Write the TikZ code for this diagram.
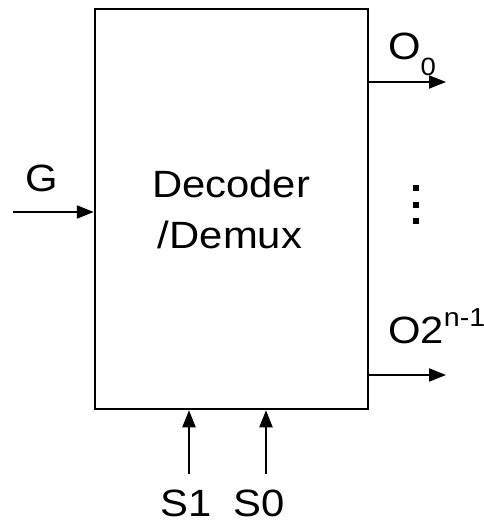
\documentclass[tikz,border=0pt]{standalone}
\usepackage{fontspec}
\setmainfont{Liberation Sans}
\usetikzlibrary{arrows.meta}
\begin{document}
\begin{tikzpicture}[x=1pt,y=-1pt,
  lbl/.style={font=\fontsize{38}{46}\selectfont, inner sep=0pt, xscale=1.1},
  sig/.style={line width=2pt, -{Triangle[length=17pt,width=13pt]}},
  dotsq/.style={fill=black, minimum size=6pt, inner sep=0pt}]
\useasboundingbox (0,0) rectangle (484,523);
\node[draw, line width=2.5pt, minimum width=273pt, minimum height=400pt, inner sep=0pt] (box) at (231.5,209) {};
\node[lbl, anchor=base] (dec1) at (231,197) {Decoder};
\node[lbl, anchor=base] (dec2) at (230,248) {/Demux};
% outputs
\node[lbl, anchor=base west] (o0) at (388,59) {O\raisebox{-16pt}{\fontsize{25}{25}\selectfont 0}};
\node[lbl, anchor=base west] (on) at (388,343) {O2\raisebox{17pt}{\fontsize{26}{26}\selectfont n-1}};
\coordinate (o0end) at (446,82);
\coordinate (onend) at (446,375);
\draw[sig] (o0end -| box.east) -- (o0end);
\draw[sig] (onend -| box.east) -- (onend);
\node[dotsq] (d1) at (416,188) {};
\node[dotsq] (d2) at (416,205) {};
\node[dotsq] (d3) at (416,221) {};
% enable
\node[lbl, anchor=base west] (g) at (25,191) {G};
\coordinate (gin) at (13,212);
\draw[sig] (gin) -- (gin -| box.west);
% selects
\node[lbl, anchor=base west] (s1) at (160,516) {S1};
\node[lbl, anchor=base west] (s0) at (233,516) {S0};
\coordinate (s1s) at (189,474);
\coordinate (s0s) at (266,474);
\draw[sig] (s1s) -- (s1s |- box.south);
\draw[sig] (s0s) -- (s0s |- box.south);
\end{tikzpicture}
\end{document}
